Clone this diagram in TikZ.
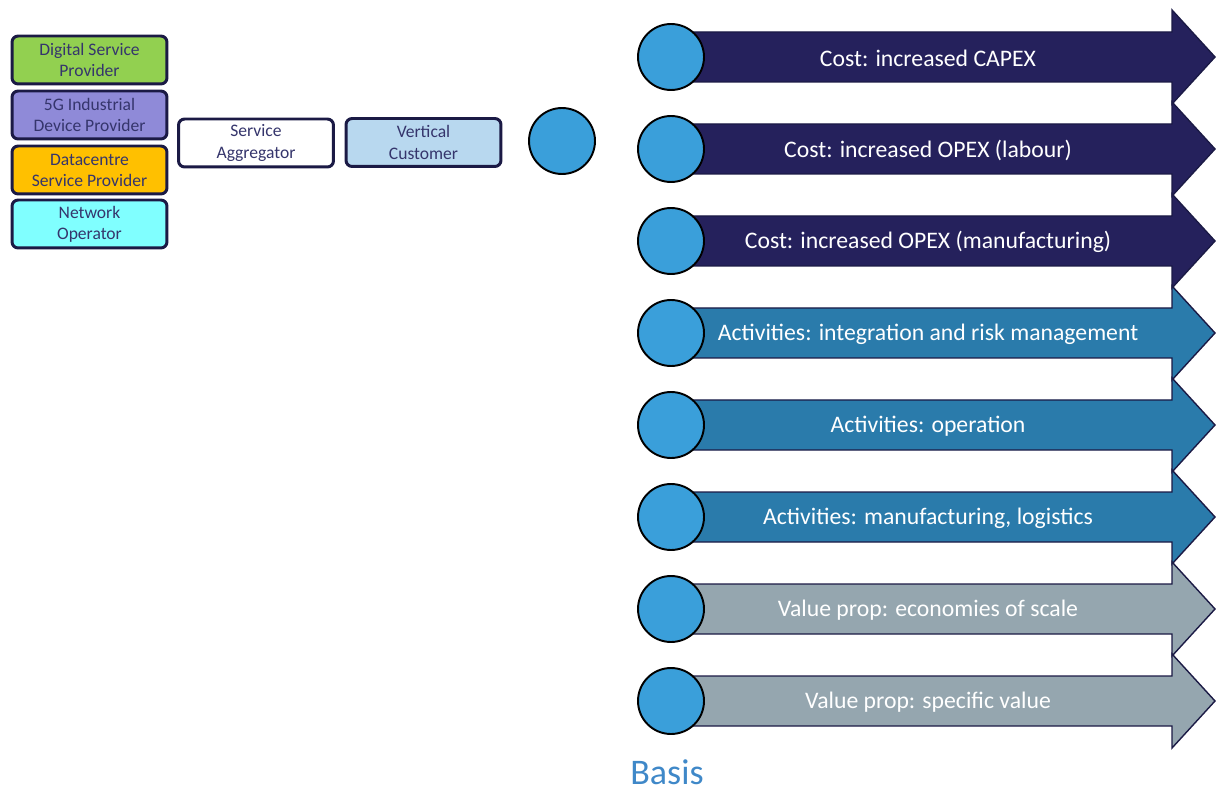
\documentclass[tikz,border=0pt]{standalone}
\usepackage{fontspec}
\setmainfont{Carlito}
\usepackage{xcolor}
\usepackage{tikz}
\definecolor{navy}{HTML}{25215C}
\definecolor{edge}{HTML}{1B1A45}
\definecolor{actblue}{HTML}{2A7BAB}
\definecolor{propgrey}{HTML}{95A6AF}
\definecolor{dot}{HTML}{3A9FDA}
\definecolor{boxtext}{HTML}{35356C}
\definecolor{dspgreen}{HTML}{92D050}
\definecolor{devpurple}{HTML}{8F8AD8}
\definecolor{dcorange}{HTML}{FFC000}
\definecolor{netcyan}{HTML}{80FFFF}
\definecolor{vertblue}{HTML}{B8D8EF}
\definecolor{basis}{HTML}{3F88C8}
\tikzset{
  actor/.style={draw=edge, line width=1.7pt, rounded corners=3.5pt, minimum width=3.1cm,
    minimum height=0.96cm, align=center, text=boxtext, font=\fontsize{10}{12}\selectfont, inner sep=1pt},
  costarw/.style={fill=navy, draw=edge, line width=0.8pt},
  actarw/.style={fill=actblue, draw=edge, line width=0.8pt},
  proparw/.style={fill=propgrey, draw=edge, line width=0.8pt},
  circ/.style={circle, fill=dot, draw=black, line width=1.1pt, minimum size=1.32cm, inner sep=0pt},
  arwtext/.style={text=white, font=\fontsize{13.5}{16}\selectfont}
}
\begin{document}
\begin{tikzpicture}[x=0.02cm, y=-0.02cm]
  \useasboundingbox (0,0) rectangle (1217,790);

  % actors
  \node[actor, fill=dspgreen] (dsp) at (89.5,60) {Digital Service\\Provider};
  \node[actor, fill=devpurple] (dev) at (89.5,115) {5G Industrial\\Device Provider};
  \node[actor, fill=dcorange] (dcsp) at (89.5,170) {Datacentre\\Service Provider};
  \node[actor, fill=netcyan] (netop) at (89.5,224) {Network\\Operator};
  \node[actor, fill=white] (agg) at (256,143) {Service\\Aggregator};
  \node[actor, fill=vertblue] (vert) at (423.5,142.5) {Vertical\\Customer};
  \node[circ] (c0) at (562,141) {};

  % cost
  \draw[costarw] (675,32) -- ++(497,0) -- ++(0,-22) -- ++(43,47) -- ++(-43,47) -- ++(0,-22) -- ++(-497,0) -- cycle;
  \node[circ] (c1) at (671,57) {};
  \node[arwtext] (t1) at (928,58) {Cost: increased CAPEX};

  \draw[costarw] (675,124) -- ++(497,0) -- ++(0,-22) -- ++(43,47) -- ++(-43,47) -- ++(0,-22) -- ++(-497,0) -- cycle;
  \node[circ] (c2) at (671,149) {};
  \node[arwtext] (t2) at (928,150) {Cost: increased OPEX (labour)};

  \draw[costarw] (675,216) -- ++(497,0) -- ++(0,-22) -- ++(43,47) -- ++(-43,47) -- ++(0,-22) -- ++(-497,0) -- cycle;
  \node[circ] (c3) at (671,241) {};
  \node[arwtext] (t3) at (928,242) {Cost: increased OPEX (manufacturing)};

  % activities
  \draw[actarw] (675,308) -- ++(497,0) -- ++(0,-22) -- ++(43,47) -- ++(-43,47) -- ++(0,-22) -- ++(-497,0) -- cycle;
  \node[circ] (c4) at (671,333) {};
  \node[arwtext] (t4) at (928,334) {Activities: integration and risk management};

  \draw[actarw] (675,400) -- ++(497,0) -- ++(0,-22) -- ++(43,47) -- ++(-43,47) -- ++(0,-22) -- ++(-497,0) -- cycle;
  \node[circ] (c5) at (671,425) {};
  \node[arwtext] (t5) at (928,426) {Activities: operation};

  \draw[actarw] (675,492) -- ++(497,0) -- ++(0,-22) -- ++(43,47) -- ++(-43,47) -- ++(0,-22) -- ++(-497,0) -- cycle;
  \node[circ] (c6) at (671,517) {};
  \node[arwtext] (t6) at (928,518) {Activities: manufacturing, logistics};

  % value proposition
  \draw[proparw] (675,584) -- ++(497,0) -- ++(0,-22) -- ++(43,47) -- ++(-43,47) -- ++(0,-22) -- ++(-497,0) -- cycle;
  \node[circ] (c7) at (671,609) {};
  \node[arwtext] (t7) at (928,610) {Value prop: economies of scale};

  \draw[proparw] (675,676) -- ++(497,0) -- ++(0,-22) -- ++(43,47) -- ++(-43,47) -- ++(0,-22) -- ++(-497,0) -- cycle;
  \node[circ] (c8) at (671,701) {};
  \node[arwtext] (t8) at (928,702) {Value prop: specific value};

  \node[text=basis, inner sep=0pt, font=\fontsize{20.5}{24}\selectfont] (basis) at (667,772) {Basis};
\end{tikzpicture}
\end{document}
